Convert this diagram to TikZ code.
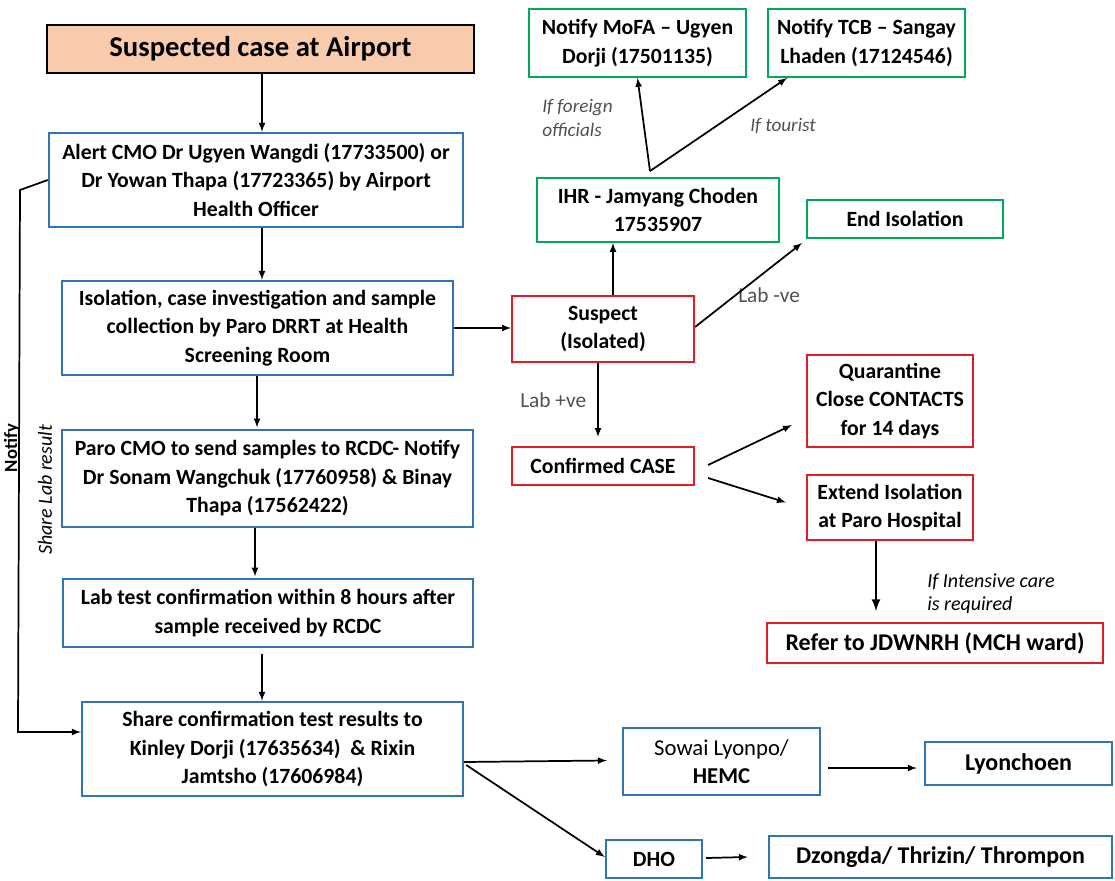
\documentclass[tikz,border=0pt]{standalone}
\usepackage{fontspec}
\setmainfont{Carlito}
\usepackage{xcolor}
\usepackage{tikz}
\usetikzlibrary{arrows,positioning,calc}

\definecolor{boxblue}{RGB}{46,117,182}
\definecolor{boxgreen}{RGB}{0,168,90}
\definecolor{boxred}{RGB}{228,28,36}
\definecolor{peach}{RGB}{248,203,173}
\definecolor{notegray}{RGB}{80,80,80}
\newcommand{\boxfont}{\fontsize{16.3}{21.4}\selectfont\bfseries}
\newcommand{\bigboxfont}{\fontsize{18}{21.4}\selectfont\bfseries}

\begin{document}
\begin{tikzpicture}[x=0.75pt,y=-0.75pt,
    base/.style={draw, align=center, inner sep=2pt, font=\boxfont, text=black},
    sz/.style 2 args={minimum width=#1*0.75pt, minimum height=#2*0.75pt},
    bluebox/.style={base, draw=boxblue, line width=1.8pt},
    greenbox/.style={base, draw=boxgreen, line width=1.4pt},
    redbox/.style={base, draw=boxred, line width=1.6pt},
    titlebox/.style={base, fill=peach, line width=2.2pt, font=\fontsize{21.5}{24}\selectfont\bfseries},
    flow/.style={-latex, line width=1.3pt},
    note/.style={font=\fontsize{14.4}{18}\selectfont\itshape, text=notegray, align=left, inner sep=0pt, anchor=west},
    labnote/.style={font=\fontsize{16}{18}\selectfont, text=notegray, inner sep=0pt, anchor=west}]
    \useasboundingbox (0,0) rectangle (1115,881);

    % Main column
    \node[titlebox, sz={427}{48}] (title) at (260.5,49) {Suspected case at Airport};
    \node[bluebox, sz={414}{94}] (alert) at (256,180) {Alert CMO Dr Ugyen Wangdi (17733500) or\\Dr Yowan Thapa (17723365) by Airport\\Health Officer};
    \node[bluebox, sz={391}{94}] (isol) at (257.5,328) {Isolation, case investigation and sample\\collection by Paro DRRT at Health\\Screening Room};
    \node[bluebox, sz={411}{97}] (paro) at (267.5,478.5) {Paro CMO to send samples to RCDC- Notify\\Dr Sonam Wangchuk (17760958) \& Binay\\Thapa (17562422)};
    \node[bluebox, sz={410}{68}] (lab) at (268,613) {Lab test confirmation within 8 hours after\\sample received by RCDC};
    \node[bluebox, sz={381}{94}] (share) at (272.5,749) {Share confirmation test results to\\Kinley Dorji (17635634)~ \& Rixin\\Jamtsho (17606984)};

    % Notification boxes
    \node[greenbox, sz={217}{68}] (mofa) at (637.5,43) {Notify MoFA – Ugyen\\Dorji (17501135)};
    \node[greenbox, sz={197}{68}] (tcb) at (866.5,43) {Notify TCB – Sangay\\Lhaden (17124546)};
    \node[greenbox, sz={242}{64}] (ihr) at (658,210) {IHR - Jamyang Choden\\17535907};
    \node[greenbox, sz={196}{38}] (endiso) at (905,219) {End Isolation};

    % Case handling
    \node[redbox, sz={182}{66}] (suspect) at (603,329) {Suspect\\(Isolated)};
    \node[redbox, sz={182}{38}] (conf) at (603,466) {Confirmed CASE};
    \node[redbox, sz={166}{92}] (quar) at (890,401) {Quarantine\\Close CONTACTS\\for 14 days};
    \node[redbox, sz={166}{65}] (ext) at (890,507.5) {Extend Isolation\\at Paro Hospital};
    \node[redbox, sz={336}{40}, font=\bigboxfont] (refer) at (935,643) {Refer to JDWNRH (MCH ward)};

    % Sharing of results
    \node[bluebox, sz={197}{67}, font=\fontsize{17}{21.4}\selectfont] (sowai) at (721.5,761.5) {Sowai Lyonpo/\\\textbf{HEMC}};
    \node[bluebox, sz={187}{43}, font=\bigboxfont] (lyon) at (1018.5,763.5) {Lyonchoen};
    \node[bluebox, sz={96}{38}] (dho) at (654,859) {DHO};
    \node[bluebox, sz={343}{42}, font=\bigboxfont] (dzong) at (940.5,857) {Dzongda/ Thrizin/ Thrompon};

    % Labels
    \node[note] (foreign) at (542,118) {If foreign\\officials};
    \node[note] (tourist) at (750,126) {If tourist};
    \node[labnote] (neg) at (738,295) {Lab -ve};
    \node[labnote] (pos) at (520,400) {Lab +ve};
    \node[note, text=black, font=\fontsize{15}{17.5}\selectfont\itshape] (icu) at (927,594) {If Intensive care\\is required};
    \node[rotate=90, font=\fontsize{14}{15}\selectfont\bfseries, inner sep=0pt] (notify) at (12,448) {Notify};
    \node[rotate=90, font=\fontsize{15}{15}\selectfont\itshape, inner sep=0pt] (sharelab) at (45,490) {Share Lab result};

    % Main column arrows
    \draw[flow] (title.south -| 262,0) -- (alert.north -| 262,0);
    \draw[flow] (alert.south -| 262,0) -- (isol.north -| 262,0);
    \draw[flow] (isol.south -| 257,0) -- ([yshift=1pt]paro.north -| 257,0);
    \draw[flow] (paro.south -| 255,0) -- ([yshift=1pt]lab.north -| 255,0);
    \draw[flow] ([yshift=-4pt]lab.south -| 262,0) -- (share.north -| 262,0);

    % Loop back on the left
    \coordinate (lp1) at (20,190);
    \coordinate (lp2) at (18,732);
    \draw[flow] (alert.west) -- (lp1) -- (lp2) -- (share.west |- lp2);

    % Suspect branch
    \draw[flow] (isol.east) -- (suspect.west |- isol.east);
    \coordinate (s2i) at ($(suspect.north)+(10,0)$);
    \draw[flow] (s2i) -- (s2i |- ihr.south);
    \coordinate (fork) at ($(ihr.north)+(-8,-6)$);
    \draw[flow] (fork) -- (mofa.south);
    \draw[flow] (fork) -- ($(tcb.south west)+(20,0)$);
    \draw[flow] ($(suspect.east)+(0,-2)$) -- ($(endiso.south west)+(-4,4)$);
    \draw[flow] ($(suspect.south)+(-5,0)$) -- ($(conf.north)+(-5,-9)$);
    \draw[flow] ($(conf.east)+(13,-1)$) -- ($(quar.west)+(-14,24)$);
    \draw[flow] ($(conf.east)+(13,12)$) -- ($(ext.west)+(-20,-5)$);
    \draw[flow, line width=2pt] ($(ext.south)+(-14,0)$) -- ($(ext.south)+(-14,70)$);

    % Sharing arrows
    \draw[flow] ($(share.east)+(0,13)$) -- ($(sowai.west)+(-15,-1)$);
    \draw[flow] ($(share.east)+(2,16)$) -- ($(dho.west)+(0,-2)$);
    \draw[flow] ($(sowai.east)+(7,6.5)$) -- ($(lyon.west)+(-7,4.5)$);
    \draw[flow] ($(dho.east)+(3,-1)$) -- ($(dzong.west)+(-20,0)$);
\end{tikzpicture}
\end{document}
